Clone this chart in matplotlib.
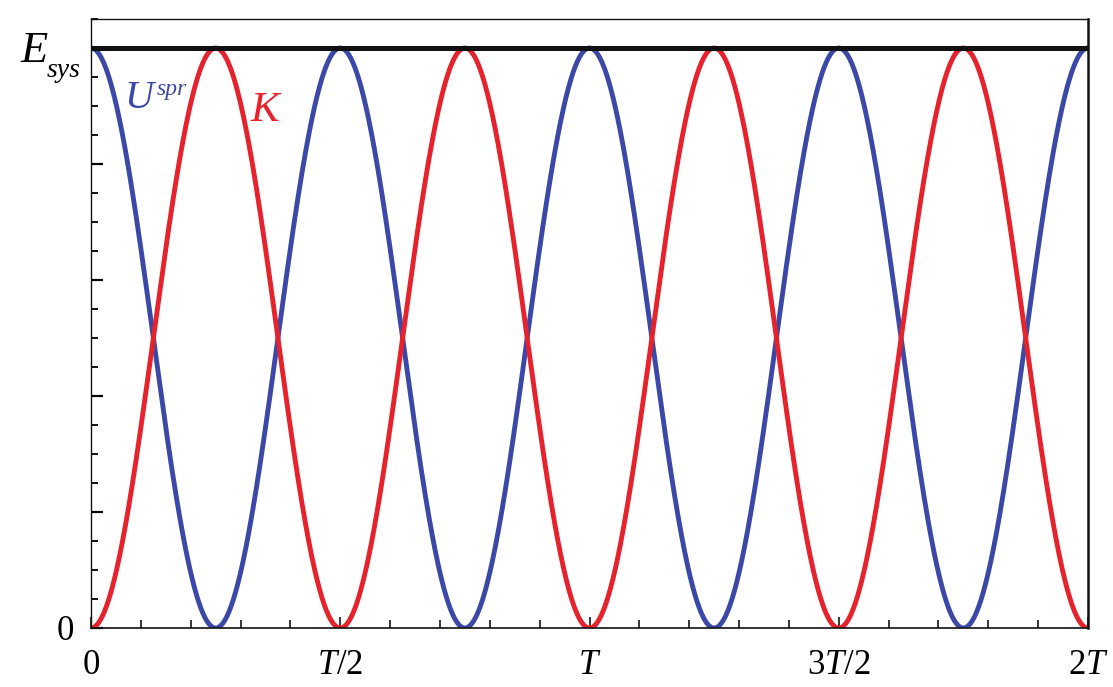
import numpy as np
import matplotlib.pyplot as plt
from matplotlib.ticker import MultipleLocator, FixedLocator

plt.rcParams["font.family"] = ["Liberation Serif", "DejaVu Serif"]
plt.rcParams["mathtext.fontset"] = "custom"
plt.rcParams["mathtext.rm"] = "Liberation Serif"
plt.rcParams["mathtext.it"] = "Liberation Serif:italic"

# energie totale et periode d'oscillation (unites reduites)
E_SYS = 1.0
T_PERIOD = 1.0
t_max = 2.0  # en unites de T

x_ticks = [0.0, 0.5, 1.0, 1.5, 2.0]
x_tick_labels = ["0", "$T$/2", "$T$", "3$T$/2", "2$T$"]
y_major = [0.0, 0.2, 0.4, 0.6, 0.8, 1.0]
y_tick_labels = ["0", "", "", "", "", ""]

# energie du ressort et energie cinetique (oscillateur harmonique)
t = np.linspace(0.0, t_max * T_PERIOD, 2001)
U_spr = E_SYS * np.cos(2 * np.pi * t / T_PERIOD) ** 2
K = E_SYS * np.sin(2 * np.pi * t / T_PERIOD) ** 2

blue = "#3c48a8"
red = "#e6222c"

W, H = 1113, 687
fig = plt.figure(figsize=(W / 100, H / 100), dpi=100)
ax = fig.add_axes([91 / W, 1 - 628 / H, (1088 - 91) / W, (628 - 19) / H])

ax.plot(t, U_spr, color=blue, lw=3.5, solid_capstyle="butt")
ax.plot(t, K, color=red, lw=3.5, solid_capstyle="butt")
ax.axhline(E_SYS, color="#111111", lw=3.6)

ax.set_xlim(0, t_max)
ax.set_ylim(0, 1.05)

ax.xaxis.set_major_locator(FixedLocator(x_ticks))
ax.set_xticklabels(x_tick_labels)
ax.xaxis.set_minor_locator(MultipleLocator(0.1))
ax.yaxis.set_major_locator(FixedLocator(y_major))
ax.set_yticklabels(y_tick_labels)
ax.yaxis.set_minor_locator(MultipleLocator(0.05))

ax.tick_params(axis="x", which="major", direction="in", length=8, width=1.1,
               labelsize=25, pad=15)
ax.tick_params(axis="x", which="minor", direction="in", length=5.5, width=1.1)
ax.tick_params(axis="y", which="major", direction="in", length=8.5, width=1.6,
               labelsize=25, pad=12)
ax.tick_params(axis="y", which="minor", direction="in", length=5, width=1.3)

for side, w in [("left", 1.0), ("bottom", 1.2), ("top", 1.0), ("right", 1.8)]:
    ax.spines[side].set_linewidth(w)
    ax.spines[side].set_color("#111111")


def label(px, py, s, size, color="black"):
    # position en pixels depuis le coin haut-gauche
    fig.text(px / W, 1 - py / H, s, fontsize=size, color=color,
             style="italic", ha="left", va="baseline")


label(21, 62, "E", 32)
label(47, 77, "sys", 20)
label(124, 108, "U", 29, blue)
label(157, 95, "spr", 17, blue)
label(250, 121, "K", 31, red)

fig.savefig("out.png", dpi=100)
